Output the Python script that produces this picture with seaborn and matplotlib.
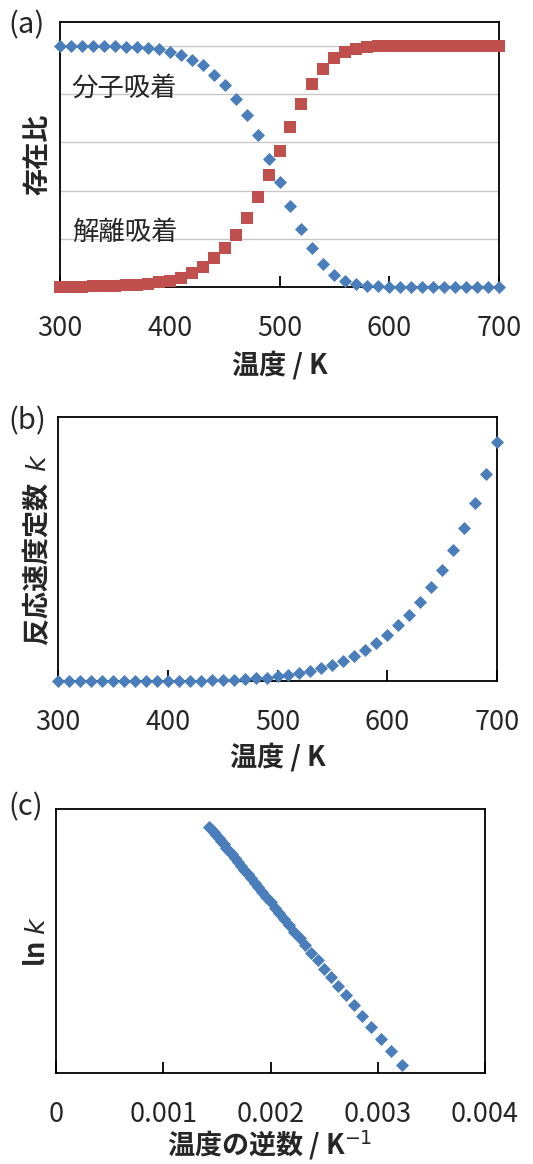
import numpy as np
import pandas as pd
import matplotlib
matplotlib.use('Agg')
import matplotlib.pyplot as plt
import seaborn as sns

# ── Data ─────────────────────────────────────────────────────
temps = list(range(300, 701, 10))

# (a) fraction of molecular / dissociative adsorption
molecular = [1.000, 1.000, 1.000, 1.000, 0.999, 0.999, 0.997, 0.996, 0.992, 0.986,
             0.976, 0.961, 0.943, 0.920, 0.882, 0.837, 0.781, 0.713, 0.629, 0.533,
             0.435, 0.335, 0.241, 0.162, 0.096, 0.051, 0.024, 0.012, 0.006, 0.003,
             0.0, 0.0, 0.0, 0.0, 0.0, 0.0, 0.0, 0.0, 0.0, 0.0, 0.0]
dissociative = [0.0, 0.0, 0.0, 0.003, 0.004, 0.006, 0.007, 0.010, 0.014, 0.019,
                0.026, 0.037, 0.058, 0.083, 0.119, 0.161, 0.216, 0.287, 0.373, 0.467,
                0.564, 0.666, 0.760, 0.841, 0.903, 0.950, 0.976, 0.989, 0.996, 0.999,
                1.0, 1.0, 1.0, 1.0, 1.0, 1.0, 1.0, 1.0, 1.0, 1.0, 1.0]

# (b) rate constant k (arbitrary units)
rate_k = [0.0, 0.0, 0.0, 0.0, 0.0, 0.0, 0.1, 0.1, 0.2, 0.3,
          0.4, 0.7, 1.0, 1.5, 2.1, 3.0, 4.2, 5.8, 7.8, 10.6,
          14, 18, 24, 31, 39, 49, 61, 76, 93, 113,
          138, 167, 199, 238, 283, 333, 393, 460, 535, 622, 718]

# (c) Arrhenius plot, 310-700 K
temps_c = list(range(310, 701, 10))
ln_k = [-5.82, -5.13, -4.47, -3.86, -3.28, -2.73, -2.21, -1.72, -1.26, -0.81,
        -0.39, 0.01, 0.39, 0.76, 1.10, 1.44, 1.76, 2.06, 2.36, 2.64,
        2.91, 3.17, 3.42, 3.66, 3.89, 4.12, 4.33, 4.54, 4.74, 4.94,
        5.13, 5.31, 5.49, 5.66, 5.82, 5.98, 6.14, 6.29, 6.44, 6.58]

temp_ticks = [300, 400, 500, 600, 700]
inv_ticks = [0, 0.001, 0.002, 0.003, 0.004]
inv_ticklabels = ['0', '0.001', '0.002', '0.003', '0.004']

BLUE = '#4A7EBB'
RED = '#C0504D'

sns.set_theme(style='white')
plt.rcParams['font.family'] = ['Noto Sans CJK JP', 'DejaVu Sans']
plt.rcParams['axes.unicode_minus'] = False

df_a = pd.DataFrame({'T': temps, 'mol': molecular, 'dis': dissociative})
df_b = pd.DataFrame({'T': temps, 'k': rate_k})
df_c = pd.DataFrame({'invT': 1.0 / np.array(temps_c), 'lnk': ln_k})

fig = plt.figure(figsize=(5.33, 11.64), dpi=100)
ax_a = fig.add_axes([0.1126, 0.7534, 0.8236, 0.2277])
ax_b = fig.add_axes([0.1088, 0.4149, 0.8237, 0.2269])
ax_c = fig.add_axes([0.1051, 0.0782, 0.8049, 0.2268])


def style_axis(ax, xlabel, ylabel, xcoords, ycoords):
    for sp in ax.spines.values():
        sp.set_visible(True)
        sp.set_color('black')
        sp.set_linewidth(1.3)
    ax.tick_params(axis='x', direction='in', length=8, width=1.3, color='black',
                   labelsize=19.5, pad=20, bottom=True, top=False)
    ax.tick_params(axis='y', left=False, right=False, labelleft=False)
    ax.set_xlabel(xlabel, fontsize=19.5, fontweight='bold')
    ax.set_ylabel(ylabel, fontsize=19.5, fontweight='bold')
    ax.xaxis.label.set_va('center')
    ax.yaxis.label.set_va('center')
    ax.xaxis.set_label_coords(*xcoords)
    ax.yaxis.set_label_coords(*ycoords)


# ── (a) ──────────────────────────────────────────────────────
for yv in [0.2, 0.4, 0.6, 0.8, 1.0]:
    ax_a.axhline(yv, color='#C8C8C8', linewidth=1.0, zorder=1)
sns.scatterplot(data=df_a, x='T', y='mol', marker='D', s=44, color=BLUE,
                linewidth=0, clip_on=False, zorder=4, ax=ax_a)
sns.scatterplot(data=df_a, x='T', y='dis', marker='s', s=66, color=RED,
                linewidth=0, clip_on=False, zorder=3, ax=ax_a)
ax_a.set_xlim(300, 700)
ax_a.set_ylim(0, 1.1)
ax_a.set_xticks(temp_ticks)
ax_a.set_yticks([])
ax_a.text(0.027, 0.75, '分子吸着', transform=ax_a.transAxes, fontsize=19,
          ha='left', va='center')
ax_a.text(0.027, 0.206, '解離吸着', transform=ax_a.transAxes, fontsize=19,
          ha='left', va='center')
style_axis(ax_a, '温度 / K', '存在比', (0.5, -0.294), (-0.052, 0.5))

# ── (b) ──────────────────────────────────────────────────────
sns.scatterplot(data=df_b, x='T', y='k', marker='D', s=44, color=BLUE,
                linewidth=0, clip_on=False, zorder=4, ax=ax_b)
ax_b.set_xlim(300, 700)
ax_b.set_ylim(0, 793)
ax_b.set_xticks(temp_ticks)
ax_b.set_yticks([])
style_axis(ax_b, '温度 / K', '反応速度定数  $k$', (0.5, -0.288), (-0.048, 0.5))

# ── (c) ──────────────────────────────────────────────────────
sns.scatterplot(data=df_c, x='invT', y='lnk', marker='D', s=44, color=BLUE,
                linewidth=0, clip_on=False, zorder=4, ax=ax_c)
ax_c.set_xlim(0, 0.004)
ax_c.set_ylim(-6.25, 7.5)
ax_c.set_xticks(inv_ticks)
ax_c.set_xticklabels(inv_ticklabels)
ax_c.set_yticks([])
style_axis(ax_c, '温度の逆数 / K$^{-1}$', 'ln $\\mathbf{\\mathit{k}}$',
           (0.499, -0.275), (-0.044, 0.496))

# panel letters
for lbl, ypx in [('(a)', 25), ('(b)', 421), ('(c)', 807)]:
    fig.text(8 / 533, 1 - ypx / 1164, lbl, fontsize=21, ha='left', va='center')

fig.savefig('out.png', dpi=100)
